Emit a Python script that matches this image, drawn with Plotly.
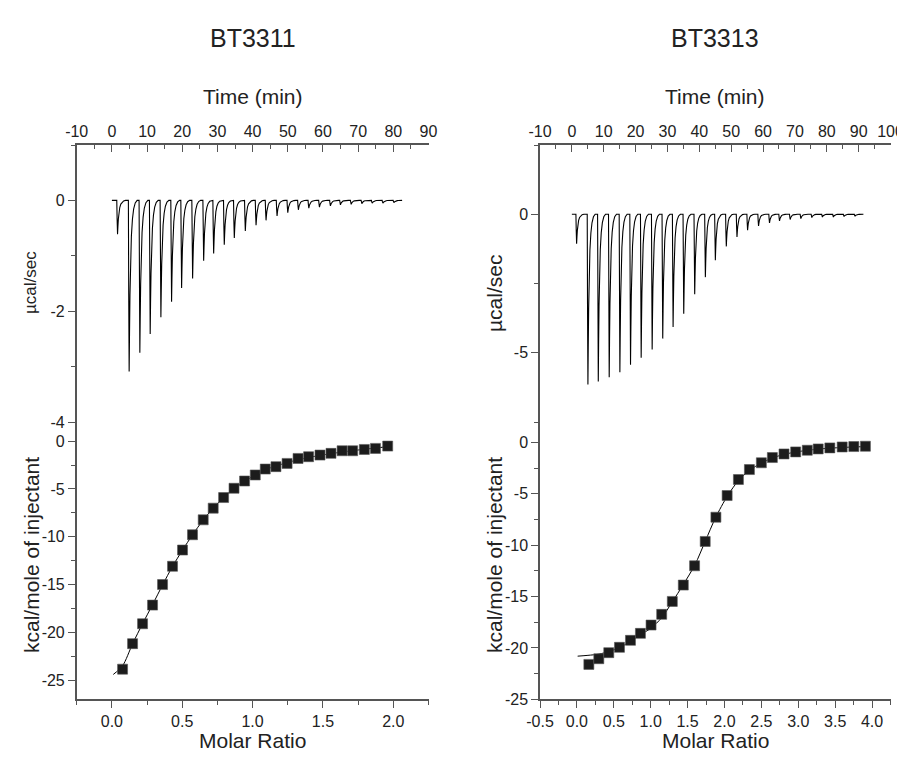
import plotly.graph_objects as go

# ---------------- data ----------------
# BT3311 (left) raw thermogram
time_start_1 = 0.0
time_end_1 = 82.5
inj_time_1 = [1.39, 4.69, 7.73, 10.67, 13.71, 16.75, 19.6, 22.73, 25.87, 28.71, 31.73, 34.58,
              37.71, 40.76, 43.6, 46.73, 49.78, 52.8, 55.76, 58.78, 61.9, 64.75, 67.8, 70.84,
              73.77, 76.82, 79.95]
peak_1 = [-0.61, -3.09, -2.75, -2.41, -2.11, -1.83, -1.58, -1.41, -1.09, -0.96, -0.8, -0.68,
          -0.55, -0.45, -0.36, -0.28, -0.22, -0.17, -0.14, -0.12, -0.1, -0.08, -0.07, -0.06,
          -0.05, -0.05, -0.04]

# BT3313 (right) raw thermogram
time_start_2 = 0.0
time_end_2 = 91.5
inj_time_2 = [1.27, 4.82, 8.07, 11.5, 14.85, 18.19, 21.53, 24.98, 28.3, 31.55, 34.89, 38.33,
              41.68, 44.81, 48.25, 51.6, 54.93, 58.37, 61.81, 64.95, 68.3, 71.64, 75.09, 78.41,
              81.86, 85.21, 88.65]
peak_2 = [-1.06, -6.15, -6.04, -5.88, -5.7, -5.43, -5.18, -4.88, -4.49, -4.07, -3.59, -2.89,
          -2.27, -1.66, -1.16, -0.82, -0.58, -0.42, -0.31, -0.24, -0.19, -0.16, -0.12, -0.1,
          -0.1, -0.08, -0.07]

# shape of one injection peak (minutes after injection, fraction of depth)
peak_offset = [0.0, 0.1, 0.22, 0.32, 0.45, 0.62, 0.85, 1.15, 1.5, 1.95, 2.5]
peak_frac = [0.0, 0.55, 1.0, 0.78, 0.55, 0.36, 0.21, 0.11, 0.05, 0.015, 0.0]

# BT3311 integrated heats
ratio_1 = [0.076, 0.147, 0.218, 0.289, 0.36, 0.431, 0.502, 0.573, 0.649, 0.72, 0.794, 0.868,
           0.943, 1.019, 1.09, 1.166, 1.245, 1.323, 1.398, 1.479, 1.557, 1.636, 1.711, 1.794,
           1.873, 1.96]
heat_1 = [-23.85, -21.18, -19.1, -17.15, -15.0, -13.09, -11.39, -9.79, -8.23, -7.01, -5.9, -4.93,
          -4.17, -3.54, -2.92, -2.67, -2.33, -1.81, -1.63, -1.46, -1.28, -1.01, -1.01, -0.87,
          -0.76, -0.52]
fit_ratio_1 = [0.01, 0.076, 0.147, 0.218, 0.289, 0.36, 0.431, 0.502, 0.573, 0.649, 0.72, 0.794,
               0.868, 0.943, 1.019, 1.09, 1.166, 1.245, 1.323, 1.398, 1.479, 1.557, 1.636, 1.711,
               1.794, 1.873, 1.96]
fit_heat_1 = [-24.4, -23.5, -21.2, -19.1, -17.1, -15.05, -13.1, -11.4, -9.8, -8.25, -7.0, -5.9,
              -4.95, -4.2, -3.55, -3.0, -2.6, -2.25, -1.95, -1.7, -1.5, -1.3, -1.15, -1.0,
              -0.85, -0.72, -0.58]

# BT3313 integrated heats
ratio_2 = [0.162, 0.297, 0.432, 0.577, 0.726, 0.861, 1.005, 1.149, 1.293, 1.442, 1.595, 1.739,
           1.884, 2.036, 2.189, 2.338, 2.5, 2.649, 2.807, 2.965, 3.122, 3.27, 3.428, 3.595,
           3.753, 3.91]
heat_2 = [-21.6, -21.05, -20.46, -19.94, -19.26, -18.58, -17.77, -16.73, -15.47, -13.88, -12.0,
          -9.63, -7.27, -5.16, -3.6, -2.63, -1.97, -1.46, -1.11, -0.91, -0.75, -0.62, -0.52,
          -0.43, -0.39, -0.36]
fit_ratio_2 = [0.01, 0.15, 0.3, 0.43, 0.58, 0.73, 0.86, 1.0, 1.15, 1.29, 1.44, 1.6, 1.74, 1.88,
               2.04, 2.19, 2.34, 2.5, 2.65, 2.81, 2.97, 3.12, 3.27, 3.43, 3.6, 3.75, 3.91]
fit_heat_2 = [-20.8, -20.72, -20.6, -20.35, -19.95, -19.35, -18.7, -18.1, -17.05, -15.55, -13.85,
              -11.9, -9.6, -7.3, -5.2, -3.7, -2.7, -2.0, -1.5, -1.15, -0.92, -0.76, -0.64,
              -0.55, -0.48, -0.43, -0.4]

titles = ["BT3311", "BT3313"]

# tick labels (plain hyphen minus signs as in the original)
time_ticks_1 = [-10, 0, 10, 20, 30, 40, 50, 60, 70, 80, 90]
time_ticks_2 = [-10, 0, 10, 20, 30, 40, 50, 60, 70, 80, 90, 100]
power_ticks_1 = [-4, -2, 0]
power_ticks_2 = [-5, 0]
heat_ticks = [-25, -20, -15, -10, -5, 0]
ratio_ticks_1 = [0.0, 0.5, 1.0, 1.5, 2.0]
ratio_ticks_2 = [-0.5, 0.0, 0.5, 1.0, 1.5, 2.0, 2.5, 3.0, 3.5, 4.0]

# ---------------- figure ----------------
PAGE_W, PAGE_H = 905, 757
OFF = 8  # default page body margin
W, H = PAGE_W - OFF, PAGE_H - OFF
FONT = "Liberation Sans, Arial, sans-serif"
AXC = "#555555"
TXT = "#222222"


def fx(px):
    return (px - OFF) / W


def fy(py):
    return (PAGE_H - py) / H


def int_labels(vals):
    return [str(int(v)) for v in vals]


def dec_labels(vals):
    return ["%.1f" % v for v in vals]


def thermogram(t0, t1, times, depths):
    xs, ys = [t0], [0.0]
    for t, d in zip(times, depths):
        for o, f in zip(peak_offset, peak_frac):
            xs.append(t + o)
            ys.append(d * f)
    xs.append(t1)
    ys.append(0.0)
    return xs, ys


fig = go.Figure()

panels = [
    dict(tx="x", ty="y", ix="x2", iy="y3",
         t0=time_start_1, t1=time_end_1, times=inj_time_1, peaks=peak_1,
         r=ratio_1, h=heat_1, fr=fit_ratio_1, fh=fit_heat_1),
    dict(tx="x4", ty="y5", ix="x5", iy="y7",
         t0=time_start_2, t1=time_end_2, times=inj_time_2, peaks=peak_2,
         r=ratio_2, h=heat_2, fr=fit_ratio_2, fh=fit_heat_2),
]

for p in panels:
    xs, ys = thermogram(p["t0"], p["t1"], p["times"], p["peaks"])
    fig.add_trace(go.Scatter(x=xs, y=ys, mode="lines", xaxis=p["tx"], yaxis=p["ty"],
                             line=dict(color="black", width=1.1), showlegend=False,
                             hoverinfo="skip"))
    fig.add_trace(go.Scatter(x=p["fr"], y=p["fh"], mode="lines", xaxis=p["ix"], yaxis=p["iy"],
                             line=dict(color="black", width=1, shape="spline", smoothing=0.8),
                             showlegend=False))
    fig.add_trace(go.Scatter(x=p["r"], y=p["h"], mode="markers", xaxis=p["ix"], yaxis=p["iy"],
                             marker=dict(symbol="square", size=10, color="#1c1c1c",
                                         line=dict(color="#555555", width=0.6)),
                             showlegend=False))

# domains (from pixel positions in the page)
left_x = (fx(76.7), fx(428.5))
right_x = (fx(540.0), fx(890.5))
top_y = (fy(422.0), fy(145.0))
bot_y = (fy(699.3), fy(422.0))

base = dict(showline=True, linecolor=AXC, linewidth=1.5, showgrid=False, zeroline=False,
            tickcolor=AXC, tickwidth=1.3, ticklen=7, automargin=False,
            tickfont=dict(family=FONT, size=16, color=TXT))


def ax(**kw):
    d = dict(base)
    d.update(kw)
    return d


def mn(dt, direction):
    return dict(dtick=dt, tick0=0, ticks=direction, ticklen=4, tickcolor=AXC, tickwidth=1.3,
                showgrid=False)


layout_axes = {}
for (xd, tx, ty, ty_m, ix, ix_m, iy, iy_m, trange, tticks, yr_t, pticks, ymn_t,
     rr, rticks, yr_i) in [
    (left_x, "xaxis", "yaxis", "yaxis2", "xaxis2", "xaxis3", "yaxis3", "yaxis4",
     [-10, 90], time_ticks_1, [-4, 1], power_ticks_1, 1, [-0.25, 2.25], ratio_ticks_1,
     [-27, 2]),
    (right_x, "xaxis4", "yaxis5", "yaxis6", "xaxis5", "xaxis6", "yaxis7", "yaxis8",
     [-10, 100], time_ticks_2, [-7.5, 2.5], power_ticks_2, 2.5, [-0.5, 4.25], ratio_ticks_2,
     [-25, 2]),
]:
    ty_id = ty.replace("axis", "")
    tx_id = tx.replace("axis", "")
    ix_id = ix.replace("axis", "")
    iy_id = iy.replace("axis", "")
    # time axis on top of thermogram
    layout_axes[tx] = ax(domain=list(xd), anchor=ty_id, side="top", range=trange,
                         tickmode="array", tickvals=tticks, ticktext=int_labels(tticks),
                         ticks="inside", minor=mn(5, "inside"))
    layout_axes[ty] = ax(domain=list(top_y), anchor=tx_id, range=yr_t,
                         tickmode="array", tickvals=pticks, ticktext=int_labels(pticks),
                         ticks="outside", minor=mn(ymn_t, "outside"))
    layout_axes[ty_m] = ax(overlaying=ty_id, anchor=tx_id, side="right", range=yr_t,
                           tickmode="array", tickvals=pticks, ticks="inside",
                           showticklabels=False, minor=mn(ymn_t, "inside"))
    # isotherm
    layout_axes[ix] = ax(domain=list(xd), anchor=iy_id, side="bottom", range=rr,
                         tickmode="array", tickvals=rticks, ticktext=dec_labels(rticks),
                         ticks="outside", minor=mn(0.25, "outside"))
    layout_axes[ix_m] = ax(overlaying=ix_id, anchor=iy_id, side="top", range=rr,
                           tickmode="array", tickvals=rticks, ticks="inside",
                           showticklabels=False, minor=mn(0.25, "inside"))
    layout_axes[iy] = ax(domain=list(bot_y), anchor=ix_id, range=yr_i,
                         tickmode="array", tickvals=heat_ticks, ticktext=int_labels(heat_ticks),
                         ticks="outside", minor=mn(2.5, "outside"))
    layout_axes[iy_m] = ax(overlaying=iy_id, anchor=ix_id, side="right", range=yr_i,
                           tickmode="array", tickvals=heat_ticks, ticks="inside",
                           showticklabels=False, minor=mn(2.5, "inside"))

fig.update_layout(**layout_axes)

annotations = []
for xd, title, ylab_x, ufs, uy in [(left_x, titles[0], 31, 17, 283),
                                   (right_x, titles[1], 494, 21, 294)]:
    cx = (xd[0] + xd[1]) / 2
    annotations.append(dict(text=title, x=cx, y=fy(38), xref="paper", yref="paper",
                            showarrow=False, font=dict(family=FONT, size=25, color=TXT),
                            xanchor="center", yanchor="middle"))
    annotations.append(dict(text="Time (min)", x=cx, y=fy(97), xref="paper", yref="paper",
                            showarrow=False, font=dict(family=FONT, size=21, color=TXT),
                            xanchor="center", yanchor="middle"))
    annotations.append(dict(text="Molar Ratio", x=cx, y=fy(740), xref="paper",
                            yref="paper", showarrow=False,
                            font=dict(family=FONT, size=21, color=TXT),
                            xanchor="center", yanchor="middle"))
    annotations.append(dict(text="µcal/sec", x=fx(ylab_x), y=fy(uy), xref="paper",
                            yref="paper", showarrow=False, textangle=-90,
                            font=dict(family=FONT, size=ufs, color=TXT),
                            xanchor="center", yanchor="middle"))
    annotations.append(dict(text="kcal/mole of injectant", x=fx(ylab_x), y=fy(555),
                            xref="paper", yref="paper", showarrow=False, textangle=-90,
                            font=dict(family=FONT, size=21, color=TXT),
                            xanchor="center", yanchor="middle"))

fig.update_layout(width=W, height=H, margin=dict(l=0, r=0, t=0, b=0, autoexpand=False),
                  paper_bgcolor="white", plot_bgcolor="white", showlegend=False,
                  annotations=annotations, font=dict(family=FONT, color=TXT))

fig.write_html("out.html")
